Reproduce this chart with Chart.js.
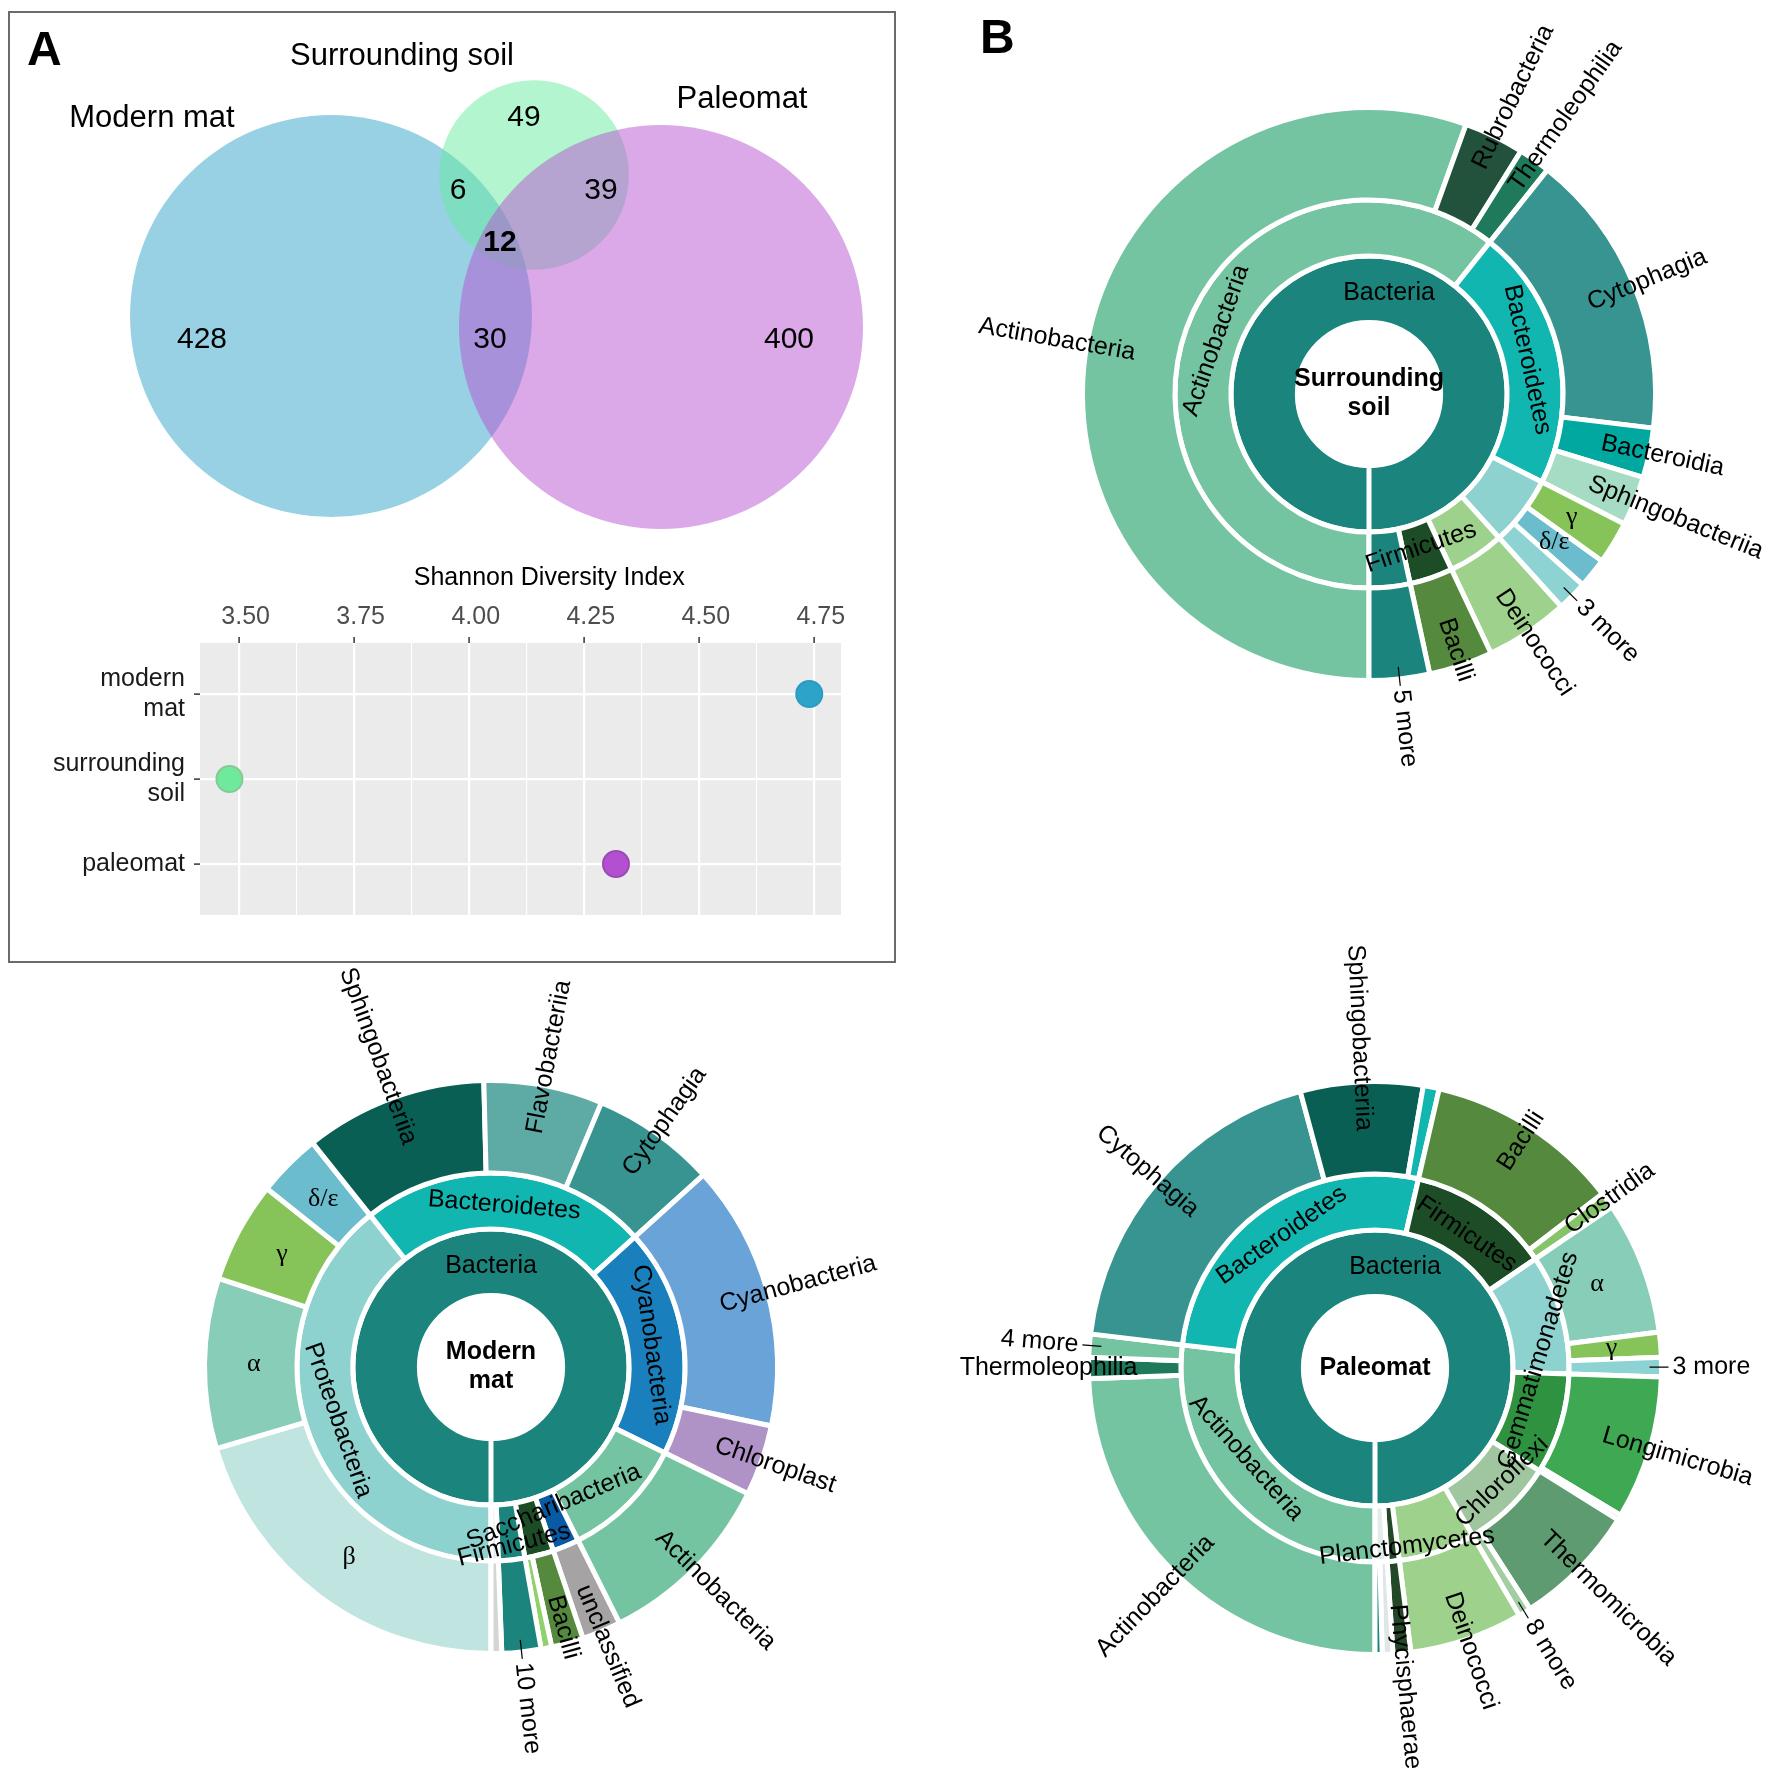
<!DOCTYPE html>
<html>
<head>
<meta charset="utf-8">
<title>Shared OTUs, Shannon diversity and taxonomic sunbursts</title>
<script src="https://cdn.jsdelivr.net/npm/chart.js@4.4.1/dist/chart.umd.min.js"></script>
<style>
  html, body { margin: 0; padding: 0; background: #fff; }
  body { position: relative; width: 1772px; height: 1781px; overflow: hidden; font-family: "Liberation Sans", Arial, sans-serif; }
  canvas { position: absolute; }
  #boxA { position: absolute; left: 8px; top: 11px; width: 884px; height: 948px; border: 2px solid #6b6b6b; }
  .tag { position: absolute; font-weight: bold; font-size: 48px; line-height: 48px; color: #000; }
</style>
</head>
<body>
<div id="boxA"></div>
<canvas id="venn" width="900" height="560" style="left:0;top:0"></canvas>
<canvas id="shannon" width="880" height="440" style="left:9px;top:520px"></canvas>
<canvas id="soil" width="900" height="900" style="left:919px;top:-56px"></canvas>
<canvas id="modern" width="900" height="900" style="left:41px;top:917px"></canvas>
<canvas id="paleo" width="900" height="900" style="left:925px;top:918px"></canvas>
<div class="tag" style="left:27px;top:25px">A</div>
<div class="tag" style="left:980px;top:13px">B</div>
<script>
// ---------- data: shared OTUs ----------
const vennSets = ['Modern mat', 'Surrounding soil', 'Paleomat'];
const vennKeys = ['modern', 'soil', 'paleo'];
const vennRegions = ['modern', 'soil', 'paleo', 'modern+soil', 'soil+paleo', 'modern+paleo', 'all'];
const vennCounts = [428, 49, 400, 6, 39, 30, 12];

// ---------- data: Shannon diversity ----------
const shannonSamples = [['modern', 'mat'], ['surrounding', 'soil'], ['paleomat']];
const shannonIndex = [4.74, 3.48, 4.32];
const shannonTicks = [3.50, 3.75, 4.00, 4.25, 4.50, 4.75];
const shannonMinor = [3.625, 3.875, 4.125, 4.375, 4.625];

// ---------- data: relative abundance (%) ----------
const soilPhyla = ['Actinobacteria', 'Bacteroidetes', 'Proteobacteria', 'Deinococcus-Thermus', 'Firmicutes', '5 more'];
const soilPhylaPct = [60.7, 21.8, 5.8, 4.7, 3.6, 3.4];
const soilClasses = ['Actinobacteria', 'Rubrobacteria', 'Thermoleophilia', 'Cytophagia', 'Bacteroidia', 'Sphingobacteriia',
  'γ', 'δ/ε', '3 more', 'Deinococci', 'Bacilli', '5 more'];
const soilClassPct = [55.5, 3.4, 1.8, 16.2, 2.8, 2.8, 2.4, 1.7, 1.7, 4.7, 3.6, 3.4];

const modernPhyla = ['Proteobacteria', 'Bacteroidetes', 'Cyanobacteria', 'Actinobacteria', 'Saccharibacteria', 'Firmicutes', '10 more', 'unassigned'];
const modernPhylaPct = [39.3, 24.0, 19.0, 10.3, 2.2, 2.4, 2.2, 0.6];
const modernClasses = ['β', 'α', 'γ', 'δ/ε', 'Sphingobacteriia', 'Flavobacteriia', 'Cytophagia', 'Cyanobacteria', 'Chloroplast',
  'Actinobacteria', 'unclassified', 'Bacilli', 'Firmicutes, other', '10 more', 'unassigned'];
const modernClassPct = [20.4, 9.6, 5.7, 3.6, 10.3, 6.7, 7.0, 15.0, 4.0, 10.3, 2.2, 1.8, 0.6, 2.2, 0.6];

const paleoPhyla = ['Actinobacteria', 'Bacteroidetes', 'Firmicutes', 'Proteobacteria', 'Gemmatimonadetes', 'Chloroflexi',
  'Deinococcus-Thermus', 'Planctomycetes', 'other'];
const paleoPhylaPct = [26.9, 26.7, 11.9, 10.0, 8.4, 7.7, 6.4, 1.0, 1.0];
const paleoClasses = ['Actinobacteria', 'Thermoleophilia', '4 more', 'Cytophagia', 'Sphingobacteriia', 'Bacteroidetes, other',
  'Bacilli', 'Clostridia', 'α', 'γ', '3 more', 'Longimicrobia', 'Gemmatimonadetes, other', 'Thermomicrobia', '8 more',
  'Deinococci', 'Phycisphaerae', 'unassigned', 'other'];
const paleoClassPct = [24.4, 1.2, 1.3, 18.9, 6.9, 0.9, 11.0, 0.9, 7.5, 1.4, 1.1, 8.1, 0.3, 7.0, 0.7, 6.4, 1.0, 0.6, 0.4];

// ---------- styles ----------
const SANS = '"Liberation Sans", Arial, sans-serif';
Chart.defaults.font.family = SANS;
Chart.defaults.color = '#000';

const vennFill = ['rgba(49,163,199,0.5)', 'rgba(103,235,159,0.5)', 'rgba(183,81,209,0.5)'];
const dotFill = ['#2ea3ca', '#6fea9c', '#b54fd2'];
const dotEdge = ['#2a9cc2', '#85c996', '#9a4cb2'];

const soilPhylaColors = ['#75c4a1', '#12b6b0', '#8ed2d0', '#9ed18b', '#1d4d27', '#1b857d'];
const soilClassColors = ['#75c4a1', '#22523c', '#1e7a5a', '#389491', '#00a8a0', '#a6dbc4', '#86c45a', '#6bbccc', '#8dd3d3',
  '#9ed18b', '#558a3e', '#1b857d'];
const modernPhylaColors = ['#8ed2d0', '#12b6b0', '#1a80bd', '#75c4a1', '#085aa5', '#1d4d27', '#1b857d', '#e6e8e8'];
const modernClassColors = ['#c0e4e0', '#88cdb8', '#86c45a', '#6bbccc', '#0a5f55', '#5eaaa5', '#389491', '#6aa3d8', '#af92c6',
  '#75c4a1', '#a5a3a3', '#558a3e', '#8fd16a', '#1b857d', '#d4d6d6'];
const paleoPhylaColors = ['#75c4a1', '#12b6b0', '#1d4d27', '#8ed2d0', '#2e9240', '#a0c6a0', '#9ed18b', '#224828', '#e4ecea'];
const paleoClassColors = ['#75c4a1', '#1e7a5a', '#75c4a1', '#389491', '#0a5f55', '#12b6b0', '#558a3e', '#86c46a', '#88cdb8',
  '#86c45a', '#8dd3d3', '#3ea852', '#2e9240', '#5f9b70', '#a3cda3', '#9ed18b', '#224828', '#dfe6e5', '#1b857d'];

// ---------- Venn layout (canvas units) ----------
const vennCentres = [[331, 316], [534, 175], [661, 327]];
const vennPxPerSqrt = 9.21;   // circle area proportional to set size
const vennRegionPos = [[202, 340], [524, 118], [789, 340], [458, 191], [601, 191], [490, 340], [500, 243]];
const vennNamePos = [[152, 118], [402, 56], [742, 99]];

const setTotal = key => vennRegions.reduce((s, r, i) =>
  (r === 'all' || r.split('+').includes(key)) ? s + vennCounts[i] : s, 0);

const vennText = {
  id: 'vennText',
  afterDatasetsDraw(chart) {
    const { ctx, scales: { x, y } } = chart;
    ctx.save();
    ctx.fillStyle = '#000';
    ctx.textAlign = 'center';
    ctx.textBaseline = 'middle';
    ctx.font = '31px ' + SANS;
    vennSets.forEach((n, i) => ctx.fillText(n, x.getPixelForValue(vennNamePos[i][0]), y.getPixelForValue(vennNamePos[i][1])));
    vennCounts.forEach((v, i) => {
      ctx.font = (vennRegions[i] === 'all' ? 'bold ' : '') + '30px ' + SANS;
      ctx.fillText(String(v), x.getPixelForValue(vennRegionPos[i][0]), y.getPixelForValue(vennRegionPos[i][1]));
    });
    ctx.restore();
  }
};

const vennRadius = c => {
  if (!c.raw) return 0;
  const s = c.chart.scales.x;
  return s.getPixelForValue(Math.sqrt(c.raw.total) * vennPxPerSqrt) - s.getPixelForValue(0);
};

new Chart(document.getElementById('venn'), {
  type: 'scatter',
  data: {
    datasets: [{
      data: vennKeys.map((k, i) => ({ x: vennCentres[i][0], y: vennCentres[i][1], total: setTotal(k) })),
      backgroundColor: vennFill,
      borderWidth: 0,
      pointRadius: vennRadius,
      pointHoverRadius: vennRadius
    }]
  },
  options: {
    responsive: false, animation: false, events: [],
    layout: { padding: 0 },
    scales: {
      x: { type: 'linear', min: 0, max: 900, display: false },
      y: { type: 'linear', min: 0, max: 560, reverse: true, display: false }
    },
    plugins: { legend: { display: false }, tooltip: { enabled: false } }
  },
  plugins: [vennText]
});

// ---------- Shannon dot plot ----------
const isMajor = v => shannonTicks.some(t => Math.abs(t - v) < 1e-6);

const panelBg = {
  id: 'panelBg',
  beforeDraw(chart) {
    const { ctx, chartArea: a } = chart;
    ctx.save();
    ctx.fillStyle = '#ebebeb';
    ctx.fillRect(a.left, a.top, a.right - a.left, a.bottom - a.top);
    ctx.restore();
  }
};

const shannonTitle = {
  id: 'shannonTitle',
  afterDraw(chart) {
    const { ctx, chartArea: a, scales: { x } } = chart;
    ctx.save();
    ctx.fillStyle = '#000';
    ctx.font = '25px ' + SANS;
    ctx.textAlign = 'center';
    ctx.textBaseline = 'middle';
    ctx.fillText('Shannon Diversity Index', x.getPixelForValue(4.175), a.top - 65);
    ctx.restore();
  }
};

new Chart(document.getElementById('shannon'), {
  type: 'scatter',
  data: {
    datasets: [{
      data: shannonIndex.map((v, i) => ({ x: v, y: i + 1 })),
      backgroundColor: dotFill,
      borderColor: dotEdge,
      borderWidth: 2,
      pointRadius: 13,
      pointHoverRadius: 13
    }]
  },
  options: {
    responsive: false, animation: false, events: [],
    layout: { padding: { left: 0, top: 0, right: 48, bottom: 45 } },
    scales: {
      x: {
        type: 'linear', position: 'top', min: 3.416, max: 4.809,
        afterBuildTicks: s => { s.ticks = shannonTicks.concat(shannonMinor).sort((p, q) => p - q).map(v => ({ value: v })); },
        afterFit: s => { s.height = 123; },
        ticks: {
          callback: v => isMajor(v) ? v.toFixed(2) : '',
          autoSkip: false, maxRotation: 0, padding: 5, labelOffset: 7,
          color: '#4d4d4d', font: { size: 25 }
        },
        grid: {
          color: '#ffffff',
          lineWidth: c => (c.tick && isMajor(c.tick.value)) ? 2.2 : 1.1,
          drawTicks: true, tickLength: 6, tickWidth: 1.5,
          tickColor: c => (c.tick && isMajor(c.tick.value)) ? '#333333' : 'rgba(0,0,0,0)'
        },
        border: { display: false }
      },
      y: {
        type: 'linear', min: 0.4, max: 3.6, reverse: true,
        afterBuildTicks: s => { s.ticks = shannonSamples.map((_, i) => ({ value: i + 1 })); },
        afterFit: s => { s.width = 191; },
        ticks: {
          callback: v => shannonSamples[v - 1],
          padding: 9, color: '#1a1a1a', font: { size: 25, lineHeight: 1.2 }
        },
        grid: { color: '#ffffff', lineWidth: 2.2, drawTicks: true, tickLength: 6, tickWidth: 1.5, tickColor: '#333333' },
        border: { display: false }
      }
    },
    plugins: { legend: { display: false }, tooltip: { enabled: false } }
  },
  plugins: [panelBg, shannonTitle]
});

// ---------- sunbursts ----------
const LABEL_FONT = '25px ' + SANS;
const GREEK_FONT = '26px "Liberation Serif", "DejaVu Serif", serif';
const CENTRE_FONT = 'bold 25px ' + SANS;

function sunLabels(s) {
  return {
    id: 'sunLabels',
    afterDatasetsDraw(chart) {
      const ctx = chart.ctx;
      ctx.save();
      ctx.fillStyle = '#000';
      ctx.strokeStyle = '#000';
      ctx.textBaseline = 'middle';
      s.rings.forEach((ring, di) => {
        chart.getDatasetMeta(di).data.forEach((arc, i) => {
          const name = ring.names[i];
          if (!name || ring.hidden.includes(name)) return;
          const p = arc.getProps(['x', 'y', 'startAngle', 'endAngle', 'innerRadius', 'outerRadius'], true);
          const n = (s.nudge[di] && s.nudge[di][name]) || [0, 0, 0];
          const a = (p.startAngle + p.endAngle) / 2 + n[1] * Math.PI / 180;
          const ca = Math.cos(a), sa = Math.sin(a);
          ctx.save();
          ctx.translate(p.x, p.y);
          if (di === 0 && /^[αβγδ]/.test(name)) {
            const rm = (p.innerRadius + p.outerRadius) / 2 - 3 + n[0];
            ctx.font = GREEK_FONT;
            ctx.textAlign = 'center';
            ctx.fillText(name, rm * ca, rm * sa);
          } else if (di === 0) {
            const more = / more$/.test(name);
            const R = p.outerRadius;
            const r0 = more ? R + 11 : p.innerRadius + 0.47 * (R - p.innerRadius) + n[0];
            if (more) {
              ctx.lineWidth = 1.2;
              ctx.beginPath();
              ctx.moveTo((R - 12) * ca, (R - 12) * sa);
              ctx.lineTo((R + 7) * ca, (R + 7) * sa);
              ctx.stroke();
            }
            const right = ca >= -1e-6;
            ctx.rotate(right ? a : a + Math.PI);
            ctx.font = LABEL_FONT;
            ctx.textAlign = right ? 'left' : 'right';
            ctx.fillText(name, right ? r0 : -r0, 0);
          } else {
            const rm = (p.innerRadius + p.outerRadius) / 2 - 4 + n[0];
            ctx.translate(rm * ca, rm * sa);
            let rot = a + Math.PI / 2;
            if (sa > 1e-6) rot -= Math.PI;
            ctx.rotate(rot);
            ctx.font = LABEL_FONT;
            ctx.textAlign = 'center';
            ctx.fillText(name, n[2] || 0, 0);
          }
          ctx.restore();
        });
      });
      const c = chart.getDatasetMeta(2).data[0];
      ctx.font = CENTRE_FONT;
      ctx.textAlign = 'center';
      const lh = 29;
      s.centre.forEach((t, k) => ctx.fillText(t, c.x, c.y + (k - (s.centre.length - 1) / 2) * lh));
      ctx.restore();
    }
  };
}

function sunburst(id, s) {
  new Chart(document.getElementById(id), {
    type: 'doughnut',
    data: {
      labels: s.rings[0].names,
      datasets: [
        { data: s.classPct, backgroundColor: s.classColors, weight: 92.5, hoverOffset: 0 },
        { data: s.phylaPct, backgroundColor: s.phylaColors, weight: 56, hoverOffset: 0 },
        { data: [100], backgroundColor: ['#1b857d'], weight: 66.5, hoverOffset: 0 }
      ]
    },
    options: {
      responsive: false, animation: false, events: [],
      rotation: 180, cutout: '25%',
      layout: { padding: 161 },
      elements: { arc: { borderColor: '#ffffff', borderWidth: 5, offset: 0, hoverOffset: 0 } },
      plugins: { legend: { display: false }, tooltip: { enabled: false } }
    },
    plugins: [sunLabels(s)]
  });
}

sunburst('soil', {
  classPct: soilClassPct, classColors: soilClassColors,
  phylaPct: soilPhylaPct, phylaColors: soilPhylaColors,
  rings: [
    { names: soilClasses, hidden: [] },
    { names: soilPhyla, hidden: ['Proteobacteria', 'Deinococcus-Thermus', '5 more'] },
    { names: ['Bacteria'], hidden: [] }
  ],
  nudge: { 0: { Rubrobacteria: [14, 0, 0], Thermoleophilia: [14, 0, 0] }, 2: { Bacteria: [0, 0, 20] } },
  centre: ['Surrounding', 'soil']
});

sunburst('modern', {
  classPct: modernClassPct, classColors: modernClassColors,
  phylaPct: modernPhylaPct, phylaColors: modernPhylaColors,
  rings: [
    { names: modernClasses, hidden: ['Firmicutes, other', 'unassigned'] },
    { names: modernPhyla, hidden: ['Actinobacteria', '10 more', 'unassigned'] },
    { names: ['Bacteria'], hidden: [] }
  ],
  nudge: { 1: { Firmicutes: [16, 0, -22], Saccharibacteria: [-9, 0, 4] } },
  centre: ['Modern', 'mat']
});

sunburst('paleo', {
  classPct: paleoClassPct, classColors: paleoClassColors,
  phylaPct: paleoPhylaPct, phylaColors: paleoPhylaColors,
  rings: [
    { names: paleoClasses, hidden: ['Bacteroidetes, other', 'Gemmatimonadetes, other', 'unassigned', 'other'] },
    { names: paleoPhyla, hidden: ['Proteobacteria', 'Deinococcus-Thermus', 'other'] },
    { names: ['Bacteria'], hidden: [] }
  ],
  nudge: {
    1: { Gemmatimonadetes: [-8, 0, 55], Chloroflexi: [8, 0, 12], Planctomycetes: [19, -1.6, 10], Actinobacteria: [-6, 0, -18] },
    2: { Bacteria: [0, 0, 20] }
  },
  centre: ['Paleomat']
});
</script>
</body>
</html>
